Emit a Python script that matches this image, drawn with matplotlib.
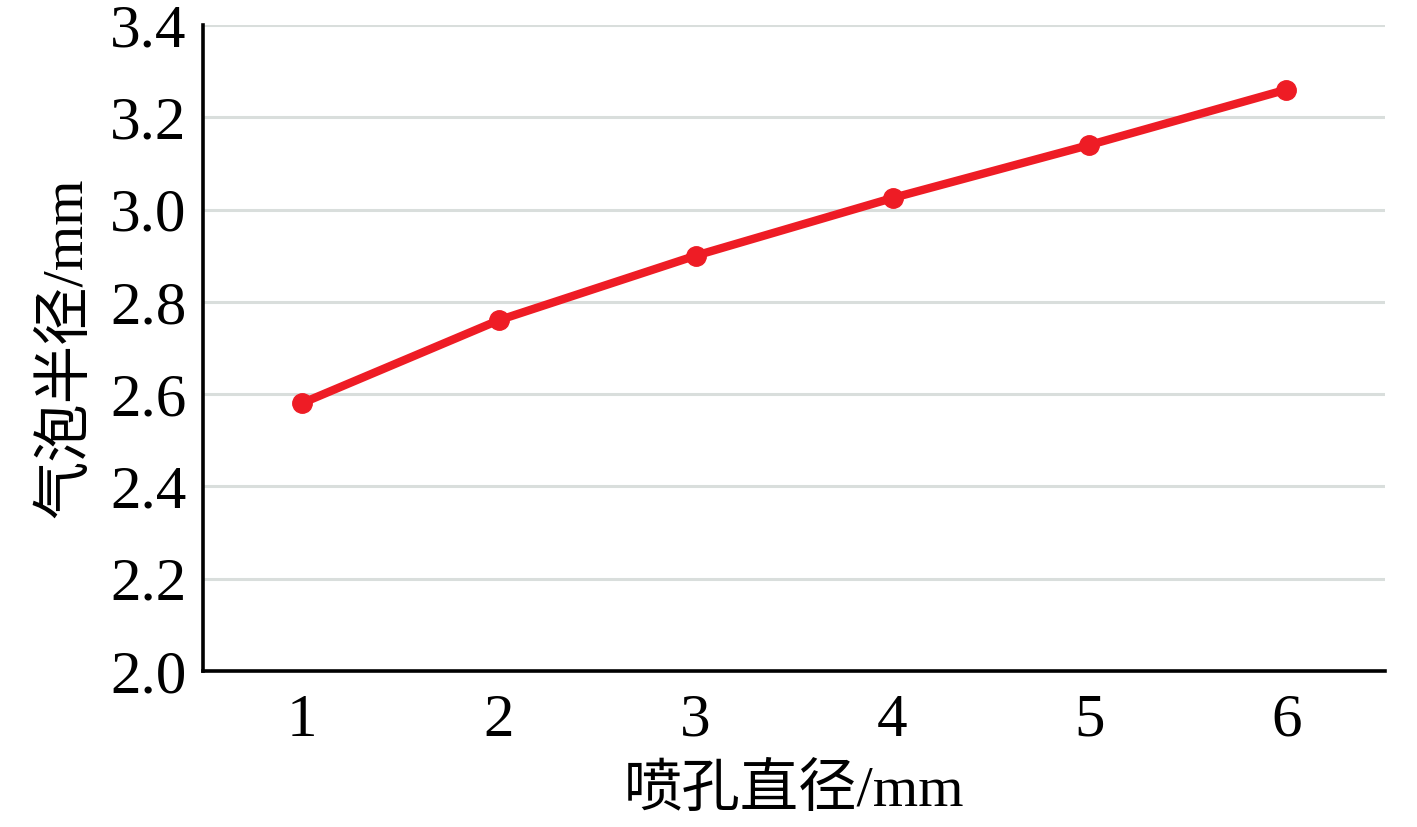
import numpy as np
import matplotlib.pyplot as plt

plt.rcParams['font.family'] = ['Liberation Serif', 'Noto Sans CJK SC']

# nozzle diameter (mm) vs bubble radius (mm)
diameters = [1, 2, 3, 4, 5, 6]
radius = [2.58, 2.76, 2.90, 3.025, 3.14, 3.26]
yticks = [2.0, 2.2, 2.4, 2.6, 2.8, 3.0, 3.2, 3.4]

fig = plt.figure(figsize=(14.17, 8.27), dpi=100)
ax = fig.add_axes([0.1433, 0.1886, 0.8341, 0.7812])

ax.plot(diameters, radius, "-o", color="#ee1c25", lw=6, ms=14, zorder=3)

ax.set_xlim(0.5, 6.5)
ax.set_ylim(2.0, 3.4)
ax.set_xticks(diameters)
ax.set_yticks(yticks)
ax.set_yticklabels([f"{v:.1f}" for v in yticks])
ax.grid(axis="y", color="#d9dedc", lw=2.2)
ax.tick_params(length=0, labelsize=44)
ax.tick_params(axis="y", pad=12)
ax.tick_params(axis="x", pad=16)

for s in ["top", "right"]:
    ax.spines[s].set_visible(False)
for s in ["left", "bottom"]:
    ax.spines[s].set_linewidth(2.6)

ax.set_xlabel("喷孔直径/mm", fontsize=42, labelpad=11)
ax.set_ylabel("气泡半径/mm", fontsize=42, labelpad=12)

fig.savefig("out.png", dpi=100)
